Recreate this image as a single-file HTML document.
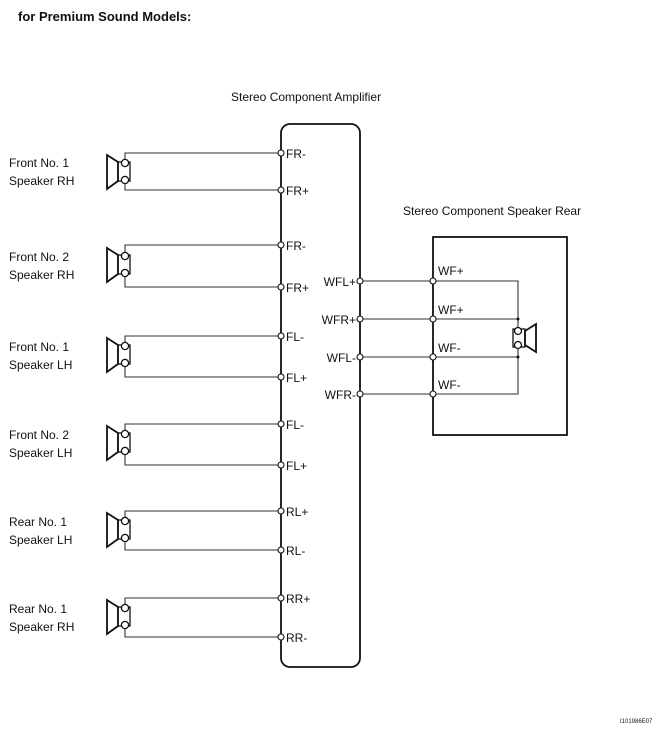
<!DOCTYPE html>
<html><head><style>
html,body{margin:0;padding:0;background:#fff;}
svg{display:block;}
text{font-family:"Liberation Sans",Arial,sans-serif;fill:#111;}
</style></head><body>
<svg width="668" height="734" viewBox="0 0 668 734" xmlns="http://www.w3.org/2000/svg">
<defs>
<g id="spk" fill="none" stroke="#111" stroke-width="1.3">
  <polygon points="107,-5 118,2 118,21 107,29" stroke-width="1.8"/>
  <rect x="118" y="2" width="12" height="19"/>
  <circle cx="125" cy="3" r="3.6" fill="#fff"/>
  <circle cx="125" cy="20" r="3.6" fill="#fff"/>
</g>
</defs>
<text x="18" y="21" font-size="13" font-weight="bold">for Premium Sound Models:</text>
<text x="231" y="101" font-size="12">Stereo Component Amplifier</text>
<text x="403" y="215" font-size="12">Stereo Component Speaker Rear</text>
<text x="620" y="723" font-size="6">I101986E07</text>

<rect x="281" y="124" width="79" height="543" rx="9" fill="none" stroke="#111" stroke-width="1.8"/>
<rect x="433" y="237" width="134" height="198" fill="none" stroke="#111" stroke-width="1.8"/>

<g stroke="#333" stroke-width="1.1" fill="none">
<path d="M281,153H125V160 M125,177V190H281"/>
<path d="M281,245H125V253 M125,270V287H281"/>
<path d="M281,336H125V343 M125,360V377H281"/>
<path d="M281,424H125V431 M125,448V465H281"/>
<path d="M281,511H125V518 M125,535V550H281"/>
<path d="M281,598H125V605 M125,622V637H281"/>
<path d="M360,281H518V319 M360,319H518 M360,357H518V394H360"/>
<path d="M518,319V329 M518,347V357"/>
</g>
<use href="#spk" y="160"/>
<use href="#spk" y="253"/>
<use href="#spk" y="343"/>
<use href="#spk" y="431"/>
<use href="#spk" y="518"/>
<use href="#spk" y="605"/>
<g fill="none" stroke="#111" stroke-width="1.3">
  <polygon points="536,324 525,331 525,345 536,352" stroke-width="1.8"/>
  <rect x="513" y="329" width="12" height="18"/>
  <circle cx="518" cy="331" r="3.5" fill="#fff"/>
  <circle cx="518" cy="345" r="3.5" fill="#fff"/>
</g>
<circle cx="518" cy="319" r="1.5" fill="#111"/>
<circle cx="518" cy="357" r="1.5" fill="#111"/>
<g fill="#fff" stroke="#111" stroke-width="1.1">
<circle cx="281" cy="153" r="3"/><circle cx="281" cy="190" r="3"/>
<circle cx="281" cy="245" r="3"/><circle cx="281" cy="287" r="3"/>
<circle cx="281" cy="336" r="3"/><circle cx="281" cy="377" r="3"/>
<circle cx="281" cy="424" r="3"/><circle cx="281" cy="465" r="3"/>
<circle cx="281" cy="511" r="3"/><circle cx="281" cy="550" r="3"/>
<circle cx="281" cy="598" r="3"/><circle cx="281" cy="637" r="3"/>
<circle cx="360" cy="281" r="3"/><circle cx="360" cy="319" r="3"/>
<circle cx="360" cy="357" r="3"/><circle cx="360" cy="394" r="3"/>
<circle cx="433" cy="281" r="3"/><circle cx="433" cy="319" r="3"/>
<circle cx="433" cy="357" r="3"/><circle cx="433" cy="394" r="3"/>
</g>
<g font-size="12">
<text x="286" y="158">FR-</text><text x="286" y="195">FR+</text>
<text x="286" y="250">FR-</text><text x="286" y="292">FR+</text>
<text x="286" y="341">FL-</text><text x="286" y="382">FL+</text>
<text x="286" y="429">FL-</text><text x="286" y="470">FL+</text>
<text x="286" y="516">RL+</text><text x="286" y="555">RL-</text>
<text x="286" y="603">RR+</text><text x="286" y="642">RR-</text>
<g text-anchor="end">
<text x="356" y="286">WFL+</text><text x="356" y="324">WFR+</text>
<text x="356" y="362">WFL-</text><text x="356" y="399">WFR-</text>
</g>
<text x="438" y="275">WF+</text><text x="438" y="314">WF+</text>
<text x="438" y="352">WF-</text><text x="438" y="389">WF-</text>
<text x="9" y="167">Front No. 1</text><text x="9" y="185">Speaker RH</text>
<text x="9" y="261">Front No. 2</text><text x="9" y="279">Speaker RH</text>
<text x="9" y="351">Front No. 1</text><text x="9" y="369">Speaker LH</text>
<text x="9" y="439">Front No. 2</text><text x="9" y="457">Speaker LH</text>
<text x="9" y="526">Rear No. 1</text><text x="9" y="544">Speaker LH</text>
<text x="9" y="613">Rear No. 1</text><text x="9" y="631">Speaker RH</text>
</g>
</svg>
</body></html>
